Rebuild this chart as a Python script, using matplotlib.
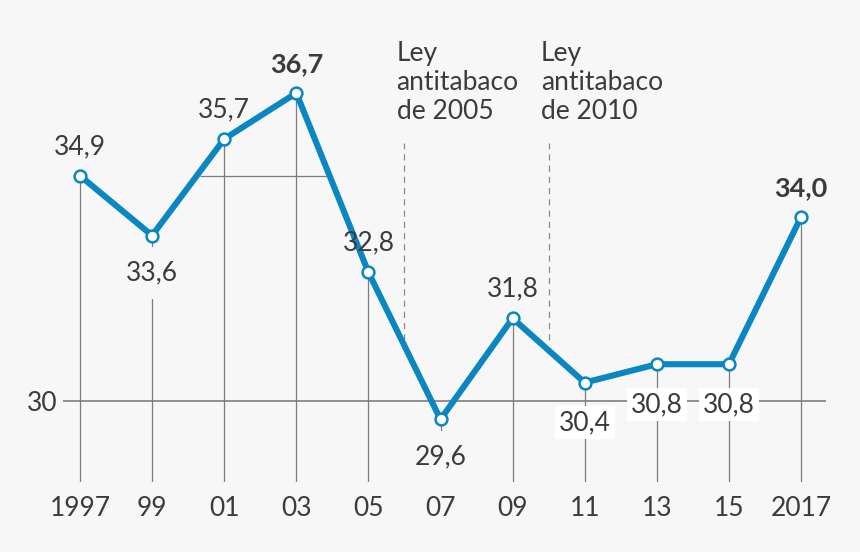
import matplotlib
matplotlib.use("Agg")
import matplotlib.pyplot as plt

years = [1997, 1999, 2001, 2003, 2005, 2007, 2009, 2011, 2013, 2015, 2017]
values = [34.9, 33.6, 35.7, 36.7, 32.8, 29.6, 31.8, 30.4, 30.8, 30.8, 34.0]
labels = ["34,9", "33,6", "35,7", "36,7", "32,8", "29,6", "31,8", "30,4", "30,8", "30,8", "34,0"]
tick_labels = ["1997", "99", "01", "03", "05", "07", "09", "11", "13", "15", "2017"]
bold = [False, False, False, True, False, False, False, False, False, False, True]
# label placement: 'above' or 'below'
place = ["above", "below", "above", "above", "above", "below", "above", "below", "below", "below", "above"]
laws = [2006, 2010]
law_texts = ["Ley\nantitabaco\nde 2005", "Ley\nantitabaco\nde 2010"]

BG = "#f7f7f7"
BLUE = "#0a87c0"
TXT = "#3d3a3e"
GRID = "#7d7d7d"
FS = 19

plt.rcParams['font.family'] = ['Lato', 'DejaVu Sans']

fig = plt.figure(figsize=(8.6, 5.52), dpi=100, facecolor=BG)
ax = fig.add_axes([63/860, 70/552, 763/860, 482/552])
ax.set_facecolor(BG)
ax.set_xlim(1996.528, 2017.693)
ax.set_ylim(28.238, 38.723)
for s in ax.spines.values():
    s.set_visible(False)

# horizontal reference line at 30
ax.axhline(30, color=GRID, lw=1.2, zorder=1)
# stray horizontal segment
ax.hlines(values[0], 2000.33, 2003.88, color=GRID, lw=0.9, zorder=1)

# vertical lines from each point down
ax.vlines(years, ax.get_ylim()[0], values, color=GRID, lw=0.9, zorder=1)

# law dashed lines
for lx in laws:
    ax.vlines(lx, 31.33, 35.61, color="#8a8a8a", lw=0.9, linestyles=(0, (5, 4)), zorder=1)
for lx, t in zip(laws, law_texts):
    ax.text(lx - 0.22, 37.83, t, ha="left", va="top", fontsize=FS, color=TXT,
            linespacing=1.19, zorder=5)

ax.plot(years, values, color=BLUE, lw=4.4, zorder=3, solid_joinstyle="miter",
        marker="o", ms=8.5, mfc="white", mec=BLUE, mew=1.8)

for x, v, lab, b, p in zip(years, values, labels, bold, place):
    fw = "bold" if b else "normal"
    fs = FS + 0.5 if b else FS
    if p == "above":
        ax.annotate(lab, (x, v), xytext=(0, 12), textcoords="offset points",
                    ha="center", va="bottom", fontsize=fs, color=TXT, fontweight=fw, zorder=5)
    else:
        if 30 < v < 31:
            bb = dict(boxstyle="square,pad=0.15", fc="white", ec="none")
            off = -20
        else:
            bb = dict(boxstyle="square,pad=0.5", fc=BG, ec="none")
            off = -18
        ax.annotate(lab, (x, v), xytext=(0, off), textcoords="offset points",
                    ha="center", va="top", fontsize=fs, color=TXT, fontweight=fw,
                    bbox=bb, zorder=4)

ax.set_xticks(years)
ax.set_xticklabels(tick_labels)
ax.set_yticks([30])
ax.set_yticklabels(["30"])
ax.tick_params(axis="x", length=0, pad=10, labelsize=FS, labelcolor=TXT)
ax.tick_params(axis="y", length=0, pad=4, labelsize=FS, labelcolor=TXT)

fig.savefig("out.png", dpi=100, facecolor=BG)
